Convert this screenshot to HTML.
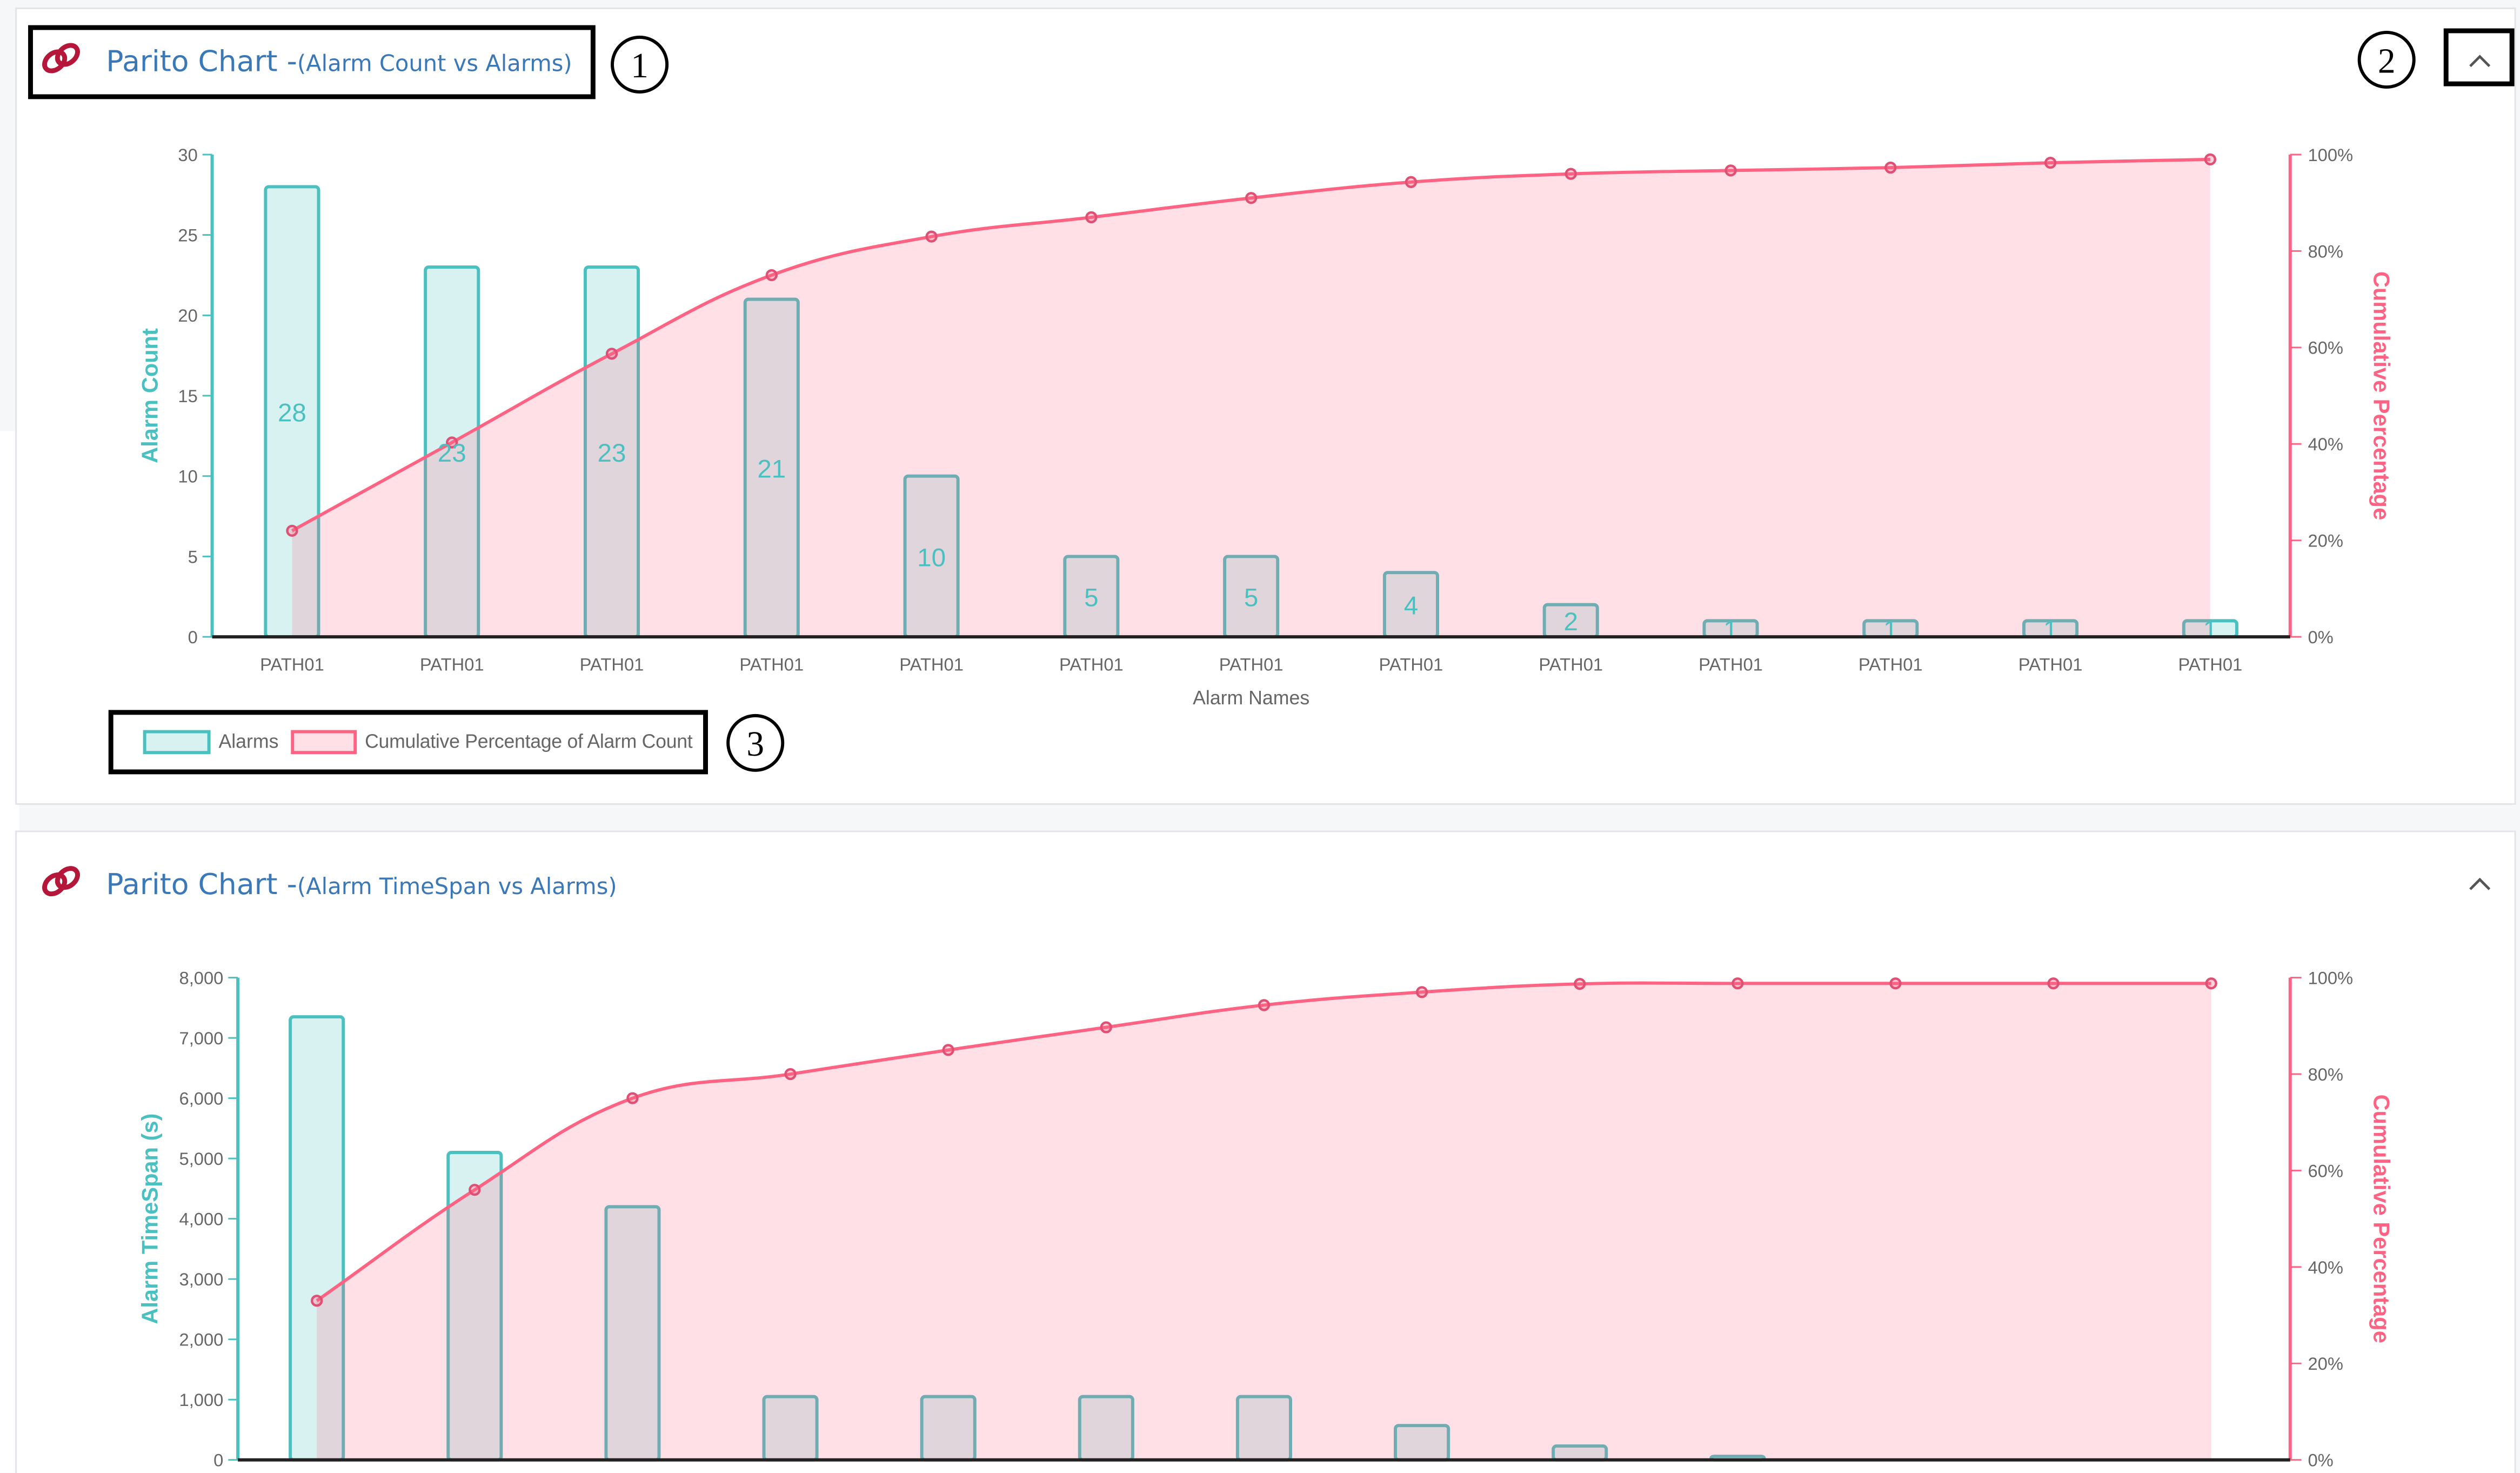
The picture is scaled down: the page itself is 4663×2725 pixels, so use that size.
<!DOCTYPE html>
<html><head><meta charset="utf-8"><style>
html,body{margin:0;padding:0;background:#f6f7f9;}
svg{display:block;font-family:"Liberation Sans",sans-serif;}
</style></head><body>
<svg id="s" width="4663" height="2725" viewBox="0 0 1568 916" xmlns="http://www.w3.org/2000/svg">
<rect x="0" y="0" width="1568" height="916" fill="#f6f7f9"/>
<rect x="0" y="268" width="12" height="648" fill="#ffffff"/>
<rect x="10" y="5" width="1555" height="495" fill="#ffffff" stroke="#e3e4e8"/>
<rect x="10" y="517" width="1555" height="410" fill="#ffffff" stroke="#e3e4e8"/>
<g id="c1"></g>
<g id="c2"></g>
<g>
<rect x="19" y="17" width="350" height="43" fill="none" stroke="#000" stroke-width="3"/>
<circle cx="398" cy="40" r="17" fill="none" stroke="#000" stroke-width="2"/>
<text x="398" y="48" text-anchor="middle" font-family="Liberation Serif" font-size="22">1</text>
<circle cx="1485" cy="37" r="17" fill="none" stroke="#000" stroke-width="2"/>
<text x="1485" y="45" text-anchor="middle" font-family="Liberation Serif" font-size="22">2</text>
<rect x="1522" y="19" width="41" height="33" fill="none" stroke="#000" stroke-width="3"/>
<rect x="69" y="443" width="370" height="37" fill="none" stroke="#000" stroke-width="3"/>
<circle cx="470" cy="462" r="17" fill="none" stroke="#000" stroke-width="2"/>
<text x="470" y="470" text-anchor="middle" font-family="Liberation Serif" font-size="22">3</text>
</g>
</svg>
<script>
const cats1 = ["PATH01","PATH01","PATH01","PATH01","PATH01","PATH01","PATH01","PATH01","PATH01","PATH01","PATH01","PATH01","PATH01"];
const counts1 = [28,23,23,21,10,5,5,4,2,1,1,1,1];
const cum1 = [22,40.3,58.7,75,83,87,91,94.3,96,96.7,97.3,98.3,99];
const ticksL1 = [0,5,10,15,20,25,30];
const cats2 = ["PATH01","PATH01","PATH01","PATH01","PATH01","PATH01","PATH01","PATH01","PATH01","PATH01","PATH01","PATH01","PATH01"];
const spans2 = [7350,5100,4200,1050,1050,1050,1050,570,230,60,0,0,0];
const cum2 = [33,56,75,80,85,89.7,94.3,97,98.7,98.8,98.8,98.8,98.8];
const ticksL2 = [0,1000,2000,3000,4000,5000,6000,7000,8000];
const ticksR = [0,20,40,60,80,100];

const NS="http://www.w3.org/2000/svg";
const TEAL="#4bc0c0", PINK="#ff6384";
function mk(p,tag,a,txt){const e=document.createElementNS(NS,tag);for(const k in a)e.setAttribute(k,a[k]);if(txt!==undefined)e.textContent=txt;p.appendChild(e);return e;}
function spline(pts){
  let d="M"+pts[0][0]+","+pts[0][1];const t=0.4;
  const cps=pts.map((p,i)=>{const prev=pts[Math.max(0,i-1)],next=pts[Math.min(pts.length-1,i+1)];
    const d01=Math.hypot(p[0]-prev[0],p[1]-prev[1]),d12=Math.hypot(next[0]-p[0],next[1]-p[1]);
    let fa=d01/(d01+d12||1),fb=d12/(d01+d12||1);fa*=t;fb*=t;
    return {p:[p[0]-fa*(next[0]-prev[0]),p[1]-fa*(next[1]-prev[1])],n:[p[0]+fb*(next[0]-prev[0]),p[1]+fb*(next[1]-prev[1])]};});
  for(let i=1;i<pts.length;i++){d+=" C"+cps[i-1].n.join(",")+" "+cps[i].p.join(",")+" "+pts[i].join(",");}
  return d;
}
function chart(g,o){
  const {x0,x1,top,bot,max,ticks,vals,cum,cats,title,ytitle,labels,legend,fmt}=o;
  const n=vals.length, step=(x1-x0)/n, bw=33;
  const X=i=>x0+step*(i+0.5), Y=v=>bot-(v/max)*(bot-top), YR=p=>bot-(p/100)*(bot-top);
  const h=mk(g,"g",{});
  const ic=mk(h,"g",{transform:`translate(38,${o.hy-2})`});
  mk(ic,"ellipse",{cx:-4,cy:2,rx:7,ry:5,fill:"none",stroke:"#b5173a","stroke-width":3,transform:"rotate(-40 -4 2)"});
  mk(ic,"ellipse",{cx:4,cy:-2,rx:7,ry:5,fill:"none",stroke:"#b5173a","stroke-width":3,transform:"rotate(-40 4 -2)"});
  const tt=mk(h,"text",{x:66,y:o.hy+6,fill:"#3a78b8","font-size":18,"font-family":"DejaVu Sans, Liberation Sans, sans-serif",},"Parito Chart -");
  mk(tt,"tspan",{"font-size":14},title);
  mk(h,"path",{d:`M1537,${o.hy+3} L1543,${o.hy-3} L1549,${o.hy+3}`,fill:"none",stroke:"#555","stroke-width":1.6,});
  vals.forEach((v,i)=>{
    const b=mk(g,"rect",{x:X(i)-bw/2,y:Y(v),width:bw,height:bot-Y(v),rx:2,fill:"#d8f2f2",stroke:TEAL,"stroke-width":2});
    
    
  });
  const pts=cum.map((p,i)=>[X(i),YR(p)]);
  const sp=spline(pts);
  const area=mk(g,"path",{d:sp+` L${X(n-1)},${bot} L${X(0)},${bot} Z`,fill:"rgba(255,99,132,0.2)"});
  
  
  const ln=mk(g,"path",{d:sp,fill:"none",stroke:PINK,"stroke-width":2});
  
  
  pts.forEach((p,i)=>{
    const c=mk(g,"circle",{cx:p[0],cy:p[1],r:3,fill:"rgba(255,99,132,0.3)",stroke:"#e05075","stroke-width":1.5});
    
    
  });
  if(labels){vals.forEach((v,i)=>{
    const t=mk(g,"text",{x:X(i),y:(Y(v)+bot)/2+6,"text-anchor":"middle",fill:TEAL,"font-size":16},String(v));
    
    
  });}
  mk(g,"line",{x1:x0,y1:top,x2:x0,y2:bot,stroke:TEAL,"stroke-width":2,});
  mk(g,"line",{x1:x1,y1:top,x2:x1,y2:bot,stroke:PINK,"stroke-width":2,});
  mk(g,"line",{x1:x0,y1:bot,x2:x1,y2:bot,stroke:"#222","stroke-width":2,});
  ticks.forEach(v=>{
    mk(g,"line",{x1:x0-6,y1:Y(v),x2:x0,y2:Y(v),stroke:TEAL,"stroke-width":1});
    const t=mk(g,"text",{x:x0-9,y:Y(v)+4,"text-anchor":"end",fill:"#666","font-size":11},fmt(v));
    
    
  });
  ticksR.forEach(p=>{
    mk(g,"line",{x1:x1,y1:YR(p),x2:x1+7,y2:YR(p),stroke:PINK,"stroke-width":1});
    const t=mk(g,"text",{x:x1+11,y:YR(p)+4,fill:"#666","font-size":11},p+"%");
    
    
  });
  cats.forEach((c,i)=>{
    const t=mk(g,"text",{x:X(i),y:bot+21,"text-anchor":"middle",fill:"#666","font-size":11},c);
    
    
  });
  const my=(top+bot)/2;
  mk(g,"text",{x:0,y:0,transform:`translate(${o.ytx},${my}) rotate(-90)`,"text-anchor":"middle",fill:TEAL,"font-size":14,"font-weight":"bold",},ytitle);
  mk(g,"text",{x:0,y:0,transform:`translate(${x1+52},${my}) rotate(90)`,"text-anchor":"middle",fill:PINK,"font-size":14,"font-weight":"bold",},"Cumulative Percentage");
  if(legend){
    mk(g,"text",{x:(x0+x1)/2,y:bot+42,"text-anchor":"middle",fill:"#666","font-size":12,},"Alarm Names");
    const lg=mk(g,"g",{});
    mk(lg,"rect",{x:90,y:455,width:40,height:13,fill:"#d8f2f2",stroke:TEAL,"stroke-width":2,});
    mk(lg,"text",{x:136,y:465,fill:"#666","font-size":12,},"Alarms");
    mk(lg,"rect",{x:182,y:455,width:39,height:13,fill:"#ffe0e6",stroke:PINK,"stroke-width":2,});
    mk(lg,"text",{x:227,y:465,fill:"#666","font-size":12,"textLength":204,},"Cumulative Percentage of Alarm Count");
  }
}
chart(document.getElementById("c1"),{x0:132,x1:1425,top:96,bot:396,max:30,ticks:ticksL1,vals:counts1,cum:cum1,cats:cats1,
  title:"(Alarm Count vs Alarms)",ytitle:"Alarm Count",labels:true,legend:true,fmt:v=>String(v),hy:38,ytx:98});
chart(document.getElementById("c2"),{x0:148,x1:1425,top:608,bot:908,max:8000,ticks:ticksL2,vals:spans2,cum:cum2,cats:cats2,
  title:"(Alarm TimeSpan vs Alarms)",ytitle:"Alarm TimeSpan (s)",labels:false,legend:false,fmt:v=>v.toLocaleString("en-US"),hy:550,ytx:98});
</script>
</body></html>
